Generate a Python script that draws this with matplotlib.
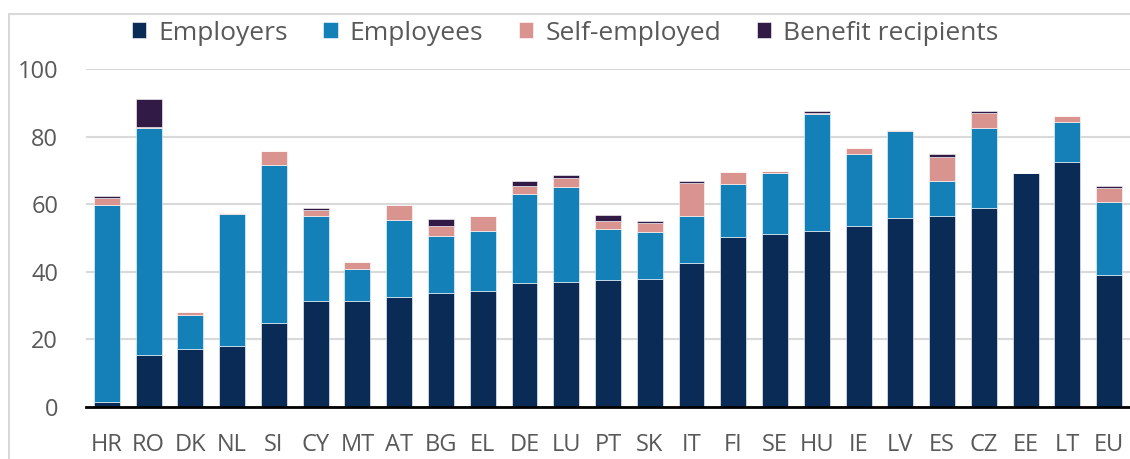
import matplotlib.pyplot as plt
from matplotlib.patches import Rectangle
import numpy as np

plt.rcParams['font.family'] = ['Open Sans', 'DejaVu Sans']

# Country codes and shares per group
paises = ['HR', 'RO', 'DK', 'NL', 'SI', 'CY', 'MT', 'AT', 'BG', 'EL', 'DE', 'LU', 'PT',
          'SK', 'IT', 'FI', 'SE', 'HU', 'IE', 'LV', 'ES', 'CZ', 'EE', 'LT', 'EU']
employers = [1.6, 15.4, 17.2, 18.1, 24.8, 31.4, 31.4, 32.6, 33.6, 34.2, 36.6, 37.0, 37.5,
             38.0, 42.7, 50.3, 51.2, 52.2, 53.6, 55.9, 56.5, 58.8, 69.1, 72.5, 39.0]
employees = [58.2, 67.0, 9.9, 38.9, 46.8, 25.0, 9.3, 22.8, 17.1, 18.0, 26.4, 28.0, 15.2,
             13.7, 13.7, 15.6, 17.9, 34.4, 21.3, 25.7, 10.3, 23.6, 0.0, 11.8, 21.7]
self_employed = [2.1, 0.4, 0.9, 0.4, 4.2, 1.9, 2.1, 4.4, 2.8, 4.2, 2.3, 2.7, 2.3,
                 2.8, 10.0, 3.7, 0.6, 0.4, 1.8, 0.4, 7.1, 4.7, 0.0, 1.9, 4.2]
benefit = [0.6, 8.2, 0.0, 0.0, 0.0, 0.5, 0.0, 0.0, 2.0, 0.0, 1.6, 1.0, 1.8,
           0.5, 0.4, 0.0, 0.0, 0.7, 0.0, 0.0, 0.9, 0.6, 0.0, 0.0, 0.5]

series = [
    ('Employers', employers, '#0a2b55'),
    ('Employees', employees, '#1380b8'),
    ('Self-employed', self_employed, '#d99490'),
    ('Benefit recipients', benefit, '#311a45'),
]

fig = plt.figure(figsize=(11.3, 4.59), dpi=100)
ax = fig.add_axes([86 / 1130, 1 - 407 / 459, 1 - 86 / 1130, (407 - 69) / 459])

x = np.arange(len(paises))
base = np.zeros(len(paises))
handles = []
for nombre, valores, color in series:
    v = np.array(valores)
    b = ax.bar(x, v, 0.62, bottom=base, color=color, edgecolor='white',
               linewidth=0.4, label=nombre, zorder=3)
    handles.append(b)
    base += v

ax.set_xlim(-0.5, len(paises) - 0.5)
ax.set_ylim(0, 100)
ax.set_yticks(range(0, 101, 20))
ax.set_xticks(x)
ax.set_xticklabels(paises)
ax.tick_params(axis='both', length=0, labelsize=17, colors='#595959')
ax.tick_params(axis='y', pad=20)
ax.tick_params(axis='x', pad=19)
ax.grid(axis='y', color='#d9d9d9', linewidth=1.5, zorder=0)
for s in ['top', 'right', 'left']:
    ax.spines[s].set_visible(False)
ax.spines['bottom'].set_color('black')
ax.spines['bottom'].set_linewidth(2)
ax.spines['bottom'].set_zorder(4)

# Marco gris del gráfico
fig.patches.append(Rectangle((9 / 1130, -0.5), 2, 1.5 - 14 / 459, transform=fig.transFigure,
                             fill=False, edgecolor='#d9d9d9', linewidth=1.5))

fig.legend(handles=handles, loc='center', bbox_to_anchor=(0.5, 1 - 33 / 459), ncol=4,
           frameon=False, fontsize=19, labelcolor='#595959', handlelength=0.55,
           handleheight=0.55, handletextpad=0.45, columnspacing=1.35)

fig.savefig('out.png', dpi=100)
